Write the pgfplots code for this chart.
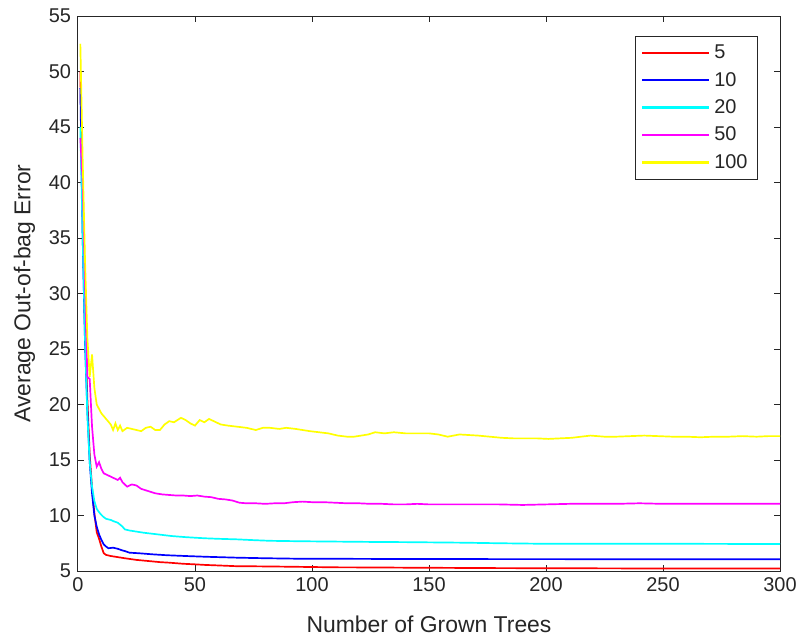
\documentclass[border=0pt]{standalone}
\usepackage{fontspec}
\setmainfont{Liberation Sans}
\usepackage{pgfplots}
\pgfplotsset{compat=1.18}
\definecolor{axisgray}{HTML}{262626}
\definecolor{mred}{HTML}{FF0000}
\definecolor{mblue}{HTML}{0000FF}
\definecolor{mcyan}{HTML}{00FFFF}
\definecolor{mmagenta}{HTML}{FF00FF}
\definecolor{myellow}{HTML}{FFFF00}

\begin{document}
\begin{tikzpicture}
  \useasboundingbox (-39bp,-35bp) rectangle (361.5bp,285.5bp);
  \begin{axis}[
    anchor=south west, at={(0,0)},
    width=351bp, height=277.5bp, scale only axis,
    xmin=0, xmax=300, ymin=5, ymax=55,
    xtick={0,50,...,300}, ytick={5,10,...,55},
    tick align=inside, major tick length=3bp,
    axis line style={axisgray, line width=0.5pt},
    tick style={axisgray, line width=0.5pt},
    every tick label/.append style={font=\fontsize{10}{12}\selectfont, text=axisgray},
    /pgf/number format/assume math mode=true,
    xlabel={Number of Grown Trees},
    ylabel={Average Out-of-bag Error},
    label style={font=\fontsize{11.5}{13}\selectfont, text=axisgray},
    xlabel style={yshift=-5bp},
    legend cell align=left,
    legend style={at={(0.9687,0.964)}, anchor=north east,
      draw=axisgray, line width=0.5pt,
      font=\fontsize{10}{12}\selectfont, text=axisgray,
      inner xsep=3bp, inner ysep=2.2bp, row sep=1.3bp},
    legend image code/.code={\draw[#1, line width=1.1pt] (0bp,0.25bp) -- (33.5bp,0.25bp);},
    every axis plot/.append style={line width=0.85pt},
  ]
    \addplot[color=mred] coordinates {
      (1,50) (2,37) (3,27) (4,20.5) (5,15.5) (6,12.5) (7,10.2) (8,8.5) (9,7.9)
      (10,7.2) (11,6.6) (12,6.45) (14,6.35) (17,6.25) (20,6.15) (25,6.0) (30,5.9)
      (35,5.8) (39,5.75) (45,5.65) (50,5.6) (54,5.55) (60,5.5) (68,5.43) (76,5.42)
      (85,5.4) (96,5.37) (110,5.33) (125,5.32) (140,5.3) (160,5.28) (180,5.26)
      (200,5.25) (220,5.24) (240,5.23) (260,5.23) (280,5.22) (300,5.22)
    };
    \addlegendentry{5}
    \addplot[color=mblue] coordinates {
      (1,48.5) (2,35) (3,25.5) (4,19.5) (5,14.8) (6,12) (7,10) (8,9) (9,8.3)
      (10,7.8) (11,7.4) (12,7.2) (13,7.05) (15,7.1) (17,7.0) (19,6.85) (20,6.8)
      (22,6.65) (26,6.6) (32,6.5) (38,6.42) (46,6.35) (55,6.28) (68,6.2) (80,6.15)
      (96,6.1) (110,6.1) (125,6.09) (140,6.08) (160,6.08) (180,6.07) (200,6.07)
      (230,6.06) (260,6.06) (300,6.05)
    };
    \addlegendentry{10}
    \addplot[color=mcyan] coordinates {
      (1,45) (2,35) (3,26) (4,19) (5,14.8) (6,12.6) (7,11.3) (8,10.6) (9,10.3)
      (10,10.05) (11,9.85) (12,9.7) (14,9.6) (15,9.5) (17,9.35) (19,9.0) (20,8.75)
      (22,8.65) (25,8.55) (28,8.45) (32,8.35) (36,8.25) (40,8.15) (46,8.05)
      (54,7.95) (60,7.9) (68,7.85) (75,7.78) (82,7.72) (95,7.68) (110,7.65)
      (125,7.62) (140,7.6) (155,7.57) (165,7.55) (180,7.5) (200,7.45) (220,7.46)
      (240,7.46) (260,7.45) (280,7.44) (300,7.43)
    };
    \addlegendentry{20}
    \addplot[color=mmagenta] coordinates {
      (1,44) (2,40) (3,31) (4,22.5) (5,22.3) (6,18) (7,15.5) (8,14.4) (9,14.8)
      (10,14.2) (11,13.8) (13,13.6) (15,13.4) (17,13.2) (18,13.4) (19,13.0)
      (21,12.6) (23,12.8) (25,12.7) (27,12.4) (30,12.2) (33,12.0) (36,11.9)
      (39,11.85) (42,11.8) (45,11.8) (48,11.75) (51,11.8) (54,11.7) (57,11.65)
      (60,11.5) (63,11.45) (66,11.35) (69,11.15) (72,11.1) (76,11.1) (80,11.05)
      (84,11.1) (88,11.1) (92,11.2) (96,11.25) (100,11.2) (105,11.2) (110,11.15)
      (115,11.1) (120,11.1) (125,11.05) (130,11.05) (135,11.0) (140,11.0)
      (145,11.05) (150,11.0) (160,11.0) (170,11.0) (180,11.0) (190,10.95)
      (200,11.0) (210,11.05) (220,11.05) (230,11.05) (240,11.1) (250,11.05)
      (260,11.05) (270,11.05) (280,11.05) (290,11.05) (300,11.05)
    };
    \addlegendentry{50}
    \addplot[color=myellow] coordinates {
      (1,52.5) (2,42) (3,33) (4,26) (5,22.5) (6,24.5) (7,21.5) (8,20.0) (9,19.6)
      (10,19.2) (12,18.7) (14,18.2) (15,17.7) (16,18.3) (17,17.7) (18,18.1)
      (19,17.6) (21,17.9) (23,17.8) (25,17.7) (27,17.6) (29,17.9) (31,18.0)
      (33,17.7) (35,17.7) (37,18.2) (39,18.5) (41,18.4) (44,18.8) (46,18.6)
      (48,18.3) (50,18.1) (52,18.6) (54,18.4) (56,18.7) (58,18.5) (61,18.2)
      (64,18.1) (68,18.0) (72,17.9) (76,17.7) (79,17.9) (82,17.9) (86,17.8)
      (89,17.9) (93,17.8) (96,17.7) (99,17.6) (103,17.5) (107,17.4) (111,17.2)
      (115,17.1) (118,17.1) (121,17.2) (124,17.3) (127,17.5) (131,17.4)
      (135,17.5) (140,17.4) (145,17.4) (150,17.4) (154,17.3) (158,17.1)
      (163,17.3) (167,17.25) (171,17.2) (176,17.1) (181,17.0) (186,16.95)
      (191,16.95) (196,16.95) (201,16.9) (206,16.95) (211,17.0) (215,17.1)
      (219,17.2) (225,17.1) (230,17.1) (236,17.15) (242,17.2) (248,17.15)
      (254,17.1) (260,17.1) (266,17.05) (272,17.1) (278,17.1) (284,17.15)
      (290,17.1) (295,17.15) (300,17.15)
    };
    \addlegendentry{100}
  \end{axis}
\end{tikzpicture}
\end{document}
